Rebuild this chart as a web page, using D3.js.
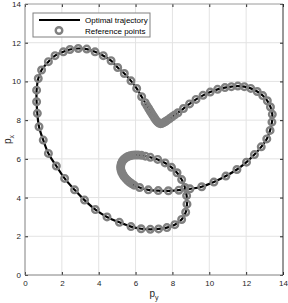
<!DOCTYPE html>
<html>
<head>
<meta charset="utf-8">
<script src="https://cdn.jsdelivr.net/npm/d3@7"></script>
<style>
  body { margin: 0; background: #fff; }
  svg { display: block; font-family: "Liberation Sans", Arial, sans-serif; }
</style>
</head>
<body>
<div id="chart"></div>
<script>
// reference points (horizontal = p_y, vertical = p_x)
var refPy = [6.8, 6.3, 5.75, 5.12, 4.45, 3.82, 3.23, 2.69, 2.15, 1.7, 1.27, 0.99, 0.76, 0.67, 0.63, 0.63,
    0.72, 0.9, 1.27, 1.63, 2.08, 2.44, 2.89, 3.35, 3.8, 4.25, 4.67, 5.03, 5.39, 5.75, 6.06, 6.33, 6.52,
    6.62, 6.71, 6.79, 6.87, 6.95, 7.03, 7.11, 7.19, 7.27, 7.35, 7.43, 7.52, 7.62, 7.73, 7.85, 7.98, 8.13, 8.3,
    8.6, 8.93, 9.28, 9.66, 10.05, 10.45, 10.85, 11.2, 11.55, 11.9, 12.25, 12.6, 12.9, 13.15, 13.32, 13.42,
    13.4, 13.3, 13.12, 12.82, 12.45, 12.02, 11.5, 10.9, 10.25, 9.59, 8.95, 8.35, 7.78, 7.23, 6.69, 6.22,
    5.92, 5.8, 5.68, 5.57, 5.47, 5.38, 5.31, 5.25, 5.21, 5.19, 5.2, 5.23, 5.29, 5.37, 5.47, 5.58, 5.7, 5.83,
    5.97, 6.13, 6.32, 6.53,
    6.8, 7.2, 7.6, 7.95, 8.25, 8.5, 8.68, 8.77, 8.79, 8.72, 8.5, 8.13, 7.7, 7.25];
var refPx = [2.36, 2.39, 2.5, 2.72, 3.0, 3.38, 3.87, 4.4, 4.99, 5.63, 6.28, 6.97, 7.66, 8.35, 8.95, 9.55,
    10.15, 10.59, 11.02, 11.33, 11.53, 11.65, 11.7, 11.67, 11.53, 11.33, 11.07, 10.72, 10.41, 10.03, 9.64, 9.21, 8.9,
    8.74, 8.6, 8.47, 8.35, 8.23, 8.11, 8.0, 7.91, 7.85, 7.82, 7.83, 7.87, 7.93, 8.0, 8.08, 8.17, 8.27, 8.38,
    8.6, 8.84, 9.07, 9.28, 9.45, 9.59, 9.68, 9.73, 9.76, 9.73, 9.64, 9.48, 9.27, 9.0, 8.68, 8.3,
    7.9, 7.47, 7.03, 6.62, 6.22, 5.83, 5.45, 5.11, 4.8, 4.56, 4.45, 4.38, 4.35, 4.36, 4.4, 4.52,
    4.64, 4.71, 4.79, 4.88, 4.98, 5.08, 5.19, 5.3, 5.42, 5.54, 5.66, 5.78, 5.89, 5.98, 6.06, 6.12, 6.16, 6.19,
    6.2, 6.2, 6.18, 6.14,
    6.08, 5.97, 5.79, 5.56, 5.28, 4.93, 4.52, 4.1, 3.66, 3.24, 2.87, 2.6, 2.45, 2.38];

var xTicks = [0, 2, 4, 6, 8, 10, 12, 14];
var yTicks = [0, 2, 4, 6, 8, 10, 12, 14];
var legendLabels = ["Optimal trajectory", "Reference points"];

var W = 288, H = 303;
var margin = { top: 4, right: 5, bottom: 28, left: 25 };
var width = W - margin.left - margin.right,
    height = H - margin.top - margin.bottom;

var svg = d3.select("#chart").append("svg")
    .attr("width", W)
    .attr("height", H);

var g = svg.append("g")
    .attr("transform", "translate(" + margin.left + "," + margin.top + ")");

var x = d3.scaleLinear().domain([0, 14]).range([0, width]);
var y = d3.scaleLinear().domain([0, 14]).range([height, 0]);

// grid
g.append("g").selectAll("line")
    .data(xTicks.slice(1, -1))
    .enter().append("line")
    .attr("x1", function(d) { return x(d); })
    .attr("x2", function(d) { return x(d); })
    .attr("y1", 0).attr("y2", height)
    .style("stroke", "#e3e3e3");

g.append("g").selectAll("line")
    .data(yTicks.slice(1, -1))
    .enter().append("line")
    .attr("y1", function(d) { return y(d); })
    .attr("y2", function(d) { return y(d); })
    .attr("x1", 0).attr("x2", width)
    .style("stroke", "#e3e3e3");

// data
var pts = refPy.map(function(d, i) { return [d, refPx[i]]; });

var line = d3.line()
    .x(function(d) { return x(d[0]); })
    .y(function(d) { return y(d[1]); })
    .curve(d3.curveCatmullRomClosed.alpha(0.5));

g.append("path")
    .datum(pts)
    .attr("d", line)
    .style("fill", "none")
    .style("stroke", "#000")
    .style("stroke-width", 2.2);

g.selectAll(".ref")
    .data(pts)
    .enter().append("circle")
    .attr("class", "ref")
    .attr("cx", function(d) { return x(d[0]); })
    .attr("cy", function(d) { return y(d[1]); })
    .attr("r", 3.3)
    .style("fill", "none")
    .style("stroke", "#808080")
    .style("stroke-width", 2.4);

// axes, ticks inward on all four sides
function styleAxis(sel) {
    sel.select(".domain").remove();
    sel.selectAll(".tick line").style("stroke", "#262626");
    sel.selectAll(".tick text").style("fill", "#262626").style("font-size", "8px");
}

g.append("g")
    .attr("transform", "translate(0," + height + ")")
    .call(d3.axisBottom(x).tickValues(xTicks).tickSize(-3).tickPadding(5))
    .call(styleAxis);

g.append("g")
    .call(d3.axisLeft(y).tickValues(yTicks).tickSize(-3).tickPadding(4))
    .call(styleAxis);

g.append("g")
    .call(d3.axisTop(x).tickValues(xTicks).tickSize(-3).tickFormat(""))
    .call(styleAxis);

g.append("g")
    .attr("transform", "translate(" + width + ",0)")
    .call(d3.axisRight(y).tickValues(yTicks).tickSize(-3).tickFormat(""))
    .call(styleAxis);

// box
g.append("line").attr("x1", 0).attr("x2", 0).attr("y1", 0).attr("y2", height)
    .style("stroke", "#808080");
g.append("line").attr("x1", 0).attr("x2", width).attr("y1", height).attr("y2", height)
    .style("stroke", "#808080");
g.append("line").attr("x1", 0).attr("x2", width).attr("y1", 0).attr("y2", 0)
    .style("stroke", "#9a9a9a");
g.append("line").attr("x1", width).attr("x2", width).attr("y1", 0).attr("y2", height)
    .style("stroke", "#333");

// axis labels
var xl = svg.append("text")
    .attr("x", margin.left + width / 2)
    .attr("y", H - 6)
    .attr("text-anchor", "middle")
    .style("font-size", "10px")
    .style("fill", "#262626");
xl.append("tspan").text("p");
xl.append("tspan").attr("dy", 3).style("font-size", "7px").text("y");

var yl = svg.append("text")
    .attr("transform", "translate(11," + (margin.top + height / 2) + ") rotate(-90)")
    .attr("text-anchor", "middle")
    .style("font-size", "10px")
    .style("fill", "#262626");
yl.append("tspan").text("p");
yl.append("tspan").attr("dy", 3).style("font-size", "7px").text("x");

// legend
var leg = svg.append("g").attr("transform", "translate(33,13)");
leg.append("rect")
    .attr("width", 117).attr("height", 24)
    .style("fill", "#fff")
    .style("stroke", "#808080");
leg.append("line")
    .attr("x1", 6).attr("x2", 47).attr("y1", 7).attr("y2", 7)
    .style("stroke", "#000").style("stroke-width", 2.2);
leg.append("circle")
    .attr("cx", 26).attr("cy", 17.5).attr("r", 3.3)
    .style("fill", "none").style("stroke", "#808080").style("stroke-width", 2.4);
leg.selectAll("text")
    .data(legendLabels)
    .enter().append("text")
    .attr("x", 52)
    .attr("y", function(d, i) { return 10 + i * 10.5; })
    .style("font-size", "8px")
    .style("fill", "#000")
    .text(function(d) { return d; });
</script>
</body>
</html>
